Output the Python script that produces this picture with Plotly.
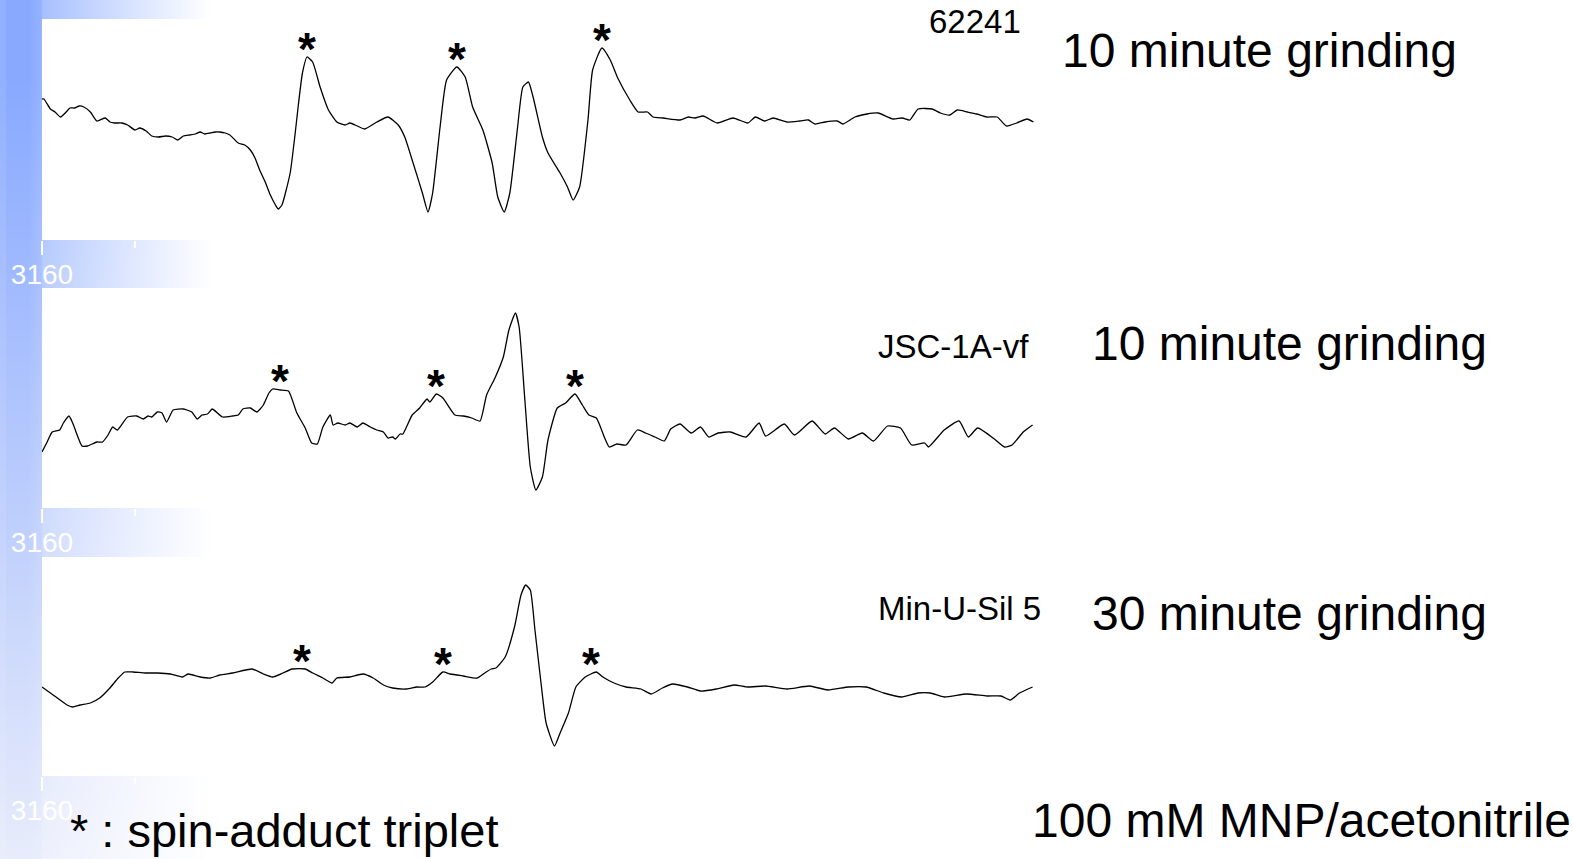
import base64
import struct
import zlib

import plotly.graph_objects as go

# ---------------------------------------------------------------------------
# EPR spectra of ground samples in 100 mM MNP / acetonitrile
# field axis: offset in gauss from the start of the sweep
# ---------------------------------------------------------------------------
sweep_start = 3160.0
sweep_end = 3267.3

samples = ["62241", "JSC-1A-vf", "Min-U-Sil 5"]
grinding = ["10 minute grinding", "10 minute grinding", "30 minute grinding"]

dB_62241 = [0.0, 0.2, 0.9, 1.4, 2.0, 2.6, 3.0, 3.5, 4.0, 4.5,
            5.2, 5.9, 6.8, 7.3, 7.8, 8.6, 9.2, 10.0, 10.5, 11.2,
            11.8, 12.5, 13.3, 14.0, 14.6, 15.2, 15.9, 16.5, 17.0, 17.5,
            18.1, 18.6, 19.1, 19.7, 20.2, 21.1, 21.8, 22.4, 22.9, 23.4,
            24.0, 24.5, 25.1, 25.4, 25.8, 26.2, 26.7, 27.2, 27.5, 28.0,
            28.5, 29.1, 29.9, 30.8, 31.7, 32.6, 33.1, 33.9, 34.7, 36.0,
            37.2, 38.3, 39.0, 39.9, 40.9, 41.5, 42.0, 42.8, 43.5, 44.6,
            45.5, 46.3, 47.4, 48.4, 49.0, 49.7, 50.3, 51.1, 51.7, 52.3,
            52.8, 53.8, 54.4, 55.7, 56.5, 57.1, 57.8, 58.7, 59.2, 60.2,
            61.1, 61.9, 63.2, 64.1, 65.1, 65.7, 66.8, 68.6, 69.5, 70.2,
            71.1, 72.6, 74.3, 75.9, 76.7, 77.7, 78.6, 80.1, 81.5, 82.4,
            83.1, 84.2, 85.5, 86.1, 87.4, 88.7, 89.9, 91.5, 92.5, 93.3,
            94.2, 95.7, 96.6, 97.6, 98.4, 99.5, 100.5, 101.6, 102.7, 103.7,
            104.8, 105.9, 106.6]
sig_62241 = [19, 19, 9, 6, 1, 6, 10, 10, 12, 11,
             6, -3, 0, -4, -5, -5, -7, -12, -10, -13,
             -18, -19, -18, -19, -22, -18, -17, -16, -14, -16,
             -15, -14, -14, -15, -17, -25, -27, -32, -40, -52,
             -64, -76, -87, -91, -87, -74, -54, -17, 8, 45,
             61, 56, 31, 8, -4, -7, -5, -8, -11, -4,
             1, -7, -19, -45, -75, -94, -75, -9, 38, 51,
             41, 11, -12, -45, -79, -94, -75, -12, 31, 36,
             21, -19, -35, -55, -69, -82, -69, -2, 48, 70,
             58, 40, 18, 6, 6, 1, 0, -2, 1, 0,
             2, -5, 0, -5, 1, -3, 0, -4, -3, -2,
             -6, -4, -3, -6, 1, 4, 5, -1, 0, -2,
             9, 9, 5, 3, 8, 6, 4, 1, 1, -8,
             -5, -1, -4]

dB_jsc = [0.0, 0.5, 1.1, 1.9, 2.3, 2.9, 3.3, 4.3, 4.9, 5.9,
          6.5, 7.1, 7.6, 8.1, 9.2, 10.2, 10.9, 11.4, 11.8, 12.4,
          12.9, 13.4, 14.1, 15.2, 16.1, 16.7, 17.2, 17.8, 18.3, 19.4,
          20.5, 21.1, 21.6, 22.4, 23.1, 23.8, 24.4, 24.8, 25.6, 26.5,
          27.4, 28.3, 29.0, 29.6, 30.2, 31.0, 31.3, 31.8, 32.6, 33.1,
          33.9, 34.5, 35.3, 36.0, 36.7, 37.2, 37.7, 38.0, 38.5, 38.8,
          39.8, 40.6, 41.4, 41.7, 42.4, 43.1, 44.4, 45.3, 46.2, 47.1,
          47.8, 48.7, 49.6, 50.2, 50.9, 51.3, 51.9, 52.5, 53.1, 53.8,
          54.4, 55.4, 56.3, 57.3, 58.1, 58.8, 59.6, 60.5, 61.0, 61.8,
          62.8, 64.0, 64.9, 65.9, 66.9, 67.6, 68.6, 69.8, 70.8, 71.7,
          72.7, 74.0, 75.7, 77.1, 77.8, 79.8, 80.9, 82.8, 84.2, 85.2,
          86.7, 88.2, 89.4, 90.9, 92.3, 93.5, 94.9, 95.3, 97.0, 98.6,
          99.6, 100.6, 102.4, 103.5, 104.3, 105.5, 106.5]
sig_jsc = [-22, -13, -2, 0, 7, 14, 7, -16, -16, -12,
           -12, -5, 3, 0, 13, 14, 11, 14, 13, 18,
           17, 8, 20, 21, 18, 11, 15, 16, 21, 13,
           14, 15, 21, 22, 18, 25, 37, 41, 40, 39,
           17, 2, -13, -14, 3, 15, 5, 7, 5, 7,
           3, 7, 3, 0, -2, -8, -7, -9, -4, -4,
           15, 22, 31, 28, 36, 32, 15, 14, 12, 9,
           35, 52, 73, 100, 117, 103, 32, -37, -60, -47,
           -10, 22, 27, 36, 25, 15, 12, -8, -17, -14,
           -15, 0, -3, -7, -11, 1, 6, -3, 3, -7,
           -3, -2, -7, 7, -6, 6, -5, 9, -4, 2,
           -9, -3, -11, 4, 2, -15, -13, -17, 0, 9,
           -7, 2, -9, -17, -15, -2, 5]

dB_minusil = [0.0, 1.2, 2.7, 3.3, 4.1, 5.2, 6.2, 7.3, 8.2, 8.9,
              9.8, 11.1, 12.4, 13.8, 15.1, 15.7, 17.0, 18.1, 19.1, 20.5,
              22.6, 23.8, 24.8, 25.9, 26.9, 28.3, 29.1, 30.2, 31.2, 31.7,
              33.1, 34.5, 35.6, 36.7, 37.7, 39.2, 40.3, 41.2, 42.0, 43.1,
              43.9, 45.3, 46.8, 47.6, 48.3, 48.8, 49.8, 50.8, 51.5, 52.0,
              52.5, 53.0, 53.7, 54.2, 55.1, 55.7, 56.6, 57.4, 58.4, 59.6,
              60.3, 61.5, 62.8, 64.4, 65.5, 66.7, 67.8, 69.4, 70.8, 72.5,
              74.4, 75.9, 77.8, 80.1, 82.5, 84.5, 86.7, 88.6, 90.5, 92.4,
              94.2, 95.5, 97.0, 99.4, 101.6, 103.1, 104.1, 105.1, 106.5]
sig_minusil = [0, -8, -18, -20, -18, -16, -11, -1, 9, 15,
               15, 14, 14, 13, 10, 13, 10, 9, 12, 14,
               18, 13, 10, 14, 18, 18, 14, 9, 4, 9,
               10, 13, 9, 2, -1, -2, 0, 0, 5, 15,
               13, 11, 9, 14, 18, 19, 30, 60, 92, 102,
               97, 57, 0, -36, -59, -46, -26, 0, 10, 15,
               10, 4, 0, -2, -7, -1, 3, 0, -4, -2,
               2, 0, 1, -2, 1, -3, 0, 0, -6, -10,
               -6, -6, -10, -7, -9, -9, -13, -6, 0]

# field offsets of the three MNP spin-adduct lines in each spectrum
triplet_dB = [[28.5, 44.6, 60.2],
              [25.6, 42.4, 57.3],
              [28.0, 43.1, 59.0]]

spectra = [(dB_62241, sig_62241), (dB_jsc, sig_jsc), (dB_minusil, sig_minusil)]

# ---------------------------------------------------------------------------
# page geometry (pixels)
# ---------------------------------------------------------------------------
W, H = 1573, 859
panel_x = (42, 1040)
panel_y = [(19, 240), (288, 508), (557, 776)]      # top, bottom
signal_range = [(-122, 99), (-78, 142), (-89, 130)]
FONT = "Arial, 'Liberation Sans', sans-serif"


def slide_background(w, h):
    """Blue band on the left edge fading to white, as a PNG data URI."""
    raw = bytearray()
    for y in range(h):
        t = min(max((y - 80) / 780.0, 0.0), 1.0)
        base = (136 + 96 * t, 169 + 67 * t, 255 - 4 * t)
        raw.append(0)
        for x in range(w):
            if x < 42:
                if x < 6:
                    f = 0.08
                elif x < 28:
                    f = 0.0
                else:
                    f = (x - 28) / 14.0 * 0.12
            else:
                u = min((x - 42) / 170.0, 1.0)
                f = 0.25 + 0.75 * u ** 0.9
            raw.extend(int(round(c + (255 - c) * f)) for c in base)

    def chunk(tag, data):
        return (struct.pack(">I", len(data)) + tag + data
                + struct.pack(">I", zlib.crc32(tag + data) & 0xFFFFFFFF))

    png = (b"\x89PNG\r\n\x1a\n"
           + chunk(b"IHDR", struct.pack(">IIBBBBB", w, h, 8, 2, 0, 0, 0))
           + chunk(b"IDAT", zlib.compress(bytes(raw), 9))
           + chunk(b"IEND", b""))
    return "data:image/png;base64," + base64.b64encode(png).decode()


fig = go.Figure()
layout = dict(
    width=W, height=H,
    margin=dict(l=0, r=0, t=0, b=0, autoexpand=False),
    paper_bgcolor="white",
    plot_bgcolor="rgba(0,0,0,0)",
    showlegend=False,
    font=dict(family=FONT, color="black"),
)

annotations = []
shapes = []
minor_ticks = [sweep_start + 10 * k for k in range(1, 11)]

for i, (dB, sig) in enumerate(spectra):
    n = "" if i == 0 else str(i + 1)
    xa, ya = "x" + n, "y" + n
    top, bottom = panel_y[i]
    field = [sweep_start + d for d in dB]

    fig.add_trace(go.Scatter(
        x=field, y=sig, xaxis=xa, yaxis=ya, mode="lines",
        line=dict(color="black", width=1.3, shape="spline", smoothing=0.5),
        hoverinfo="skip",
    ))

    layout["xaxis" + n] = dict(
        domain=[panel_x[0] / W, panel_x[1] / W],
        range=[sweep_start, sweep_end],
        anchor=ya, automargin=False,
        showgrid=False, zeroline=False, showline=False,
        ticks="outside", ticklen=14, tickwidth=2, tickcolor="white",
        tickvals=[sweep_start], ticktext=["3160"],
        ticklabelstandoff=-5,
        tickfont=dict(family=FONT, size=28, color="white"),
        minor=dict(ticks="outside", ticklen=7, tickwidth=2,
                   tickcolor="white", tickvals=minor_ticks, showgrid=False),
    )
    layout["yaxis" + n] = dict(
        domain=[1 - bottom / H, 1 - top / H],
        range=list(signal_range[i]),
        anchor=xa, visible=False, automargin=False,
    )

    # white panel behind each spectrum
    shapes.append(dict(type="rect", xref=xa + " domain", yref=ya + " domain",
                       x0=0, x1=1, y0=0, y1=1, layer="below",
                       fillcolor="white", line=dict(width=0)))

    # asterisks over the spin-adduct triplet lines
    for d in triplet_dB[i]:
        near = [s for x, s in zip(dB, sig) if abs(x - d) <= 1.2]
        annotations.append(dict(
            x=sweep_start + d, y=max(near), xref=xa, yref=ya,
            text="*", showarrow=False, yanchor="middle", yshift=8,
            font=dict(family=FONT, size=46, color="black", weight="bold"),
        ))

# sample names and grinding times
sample_label_pos = [(1023, 22), (1031, 346), (1043, 608)]
grind_label_pos = [(1060, 51), (1090, 343), (1090, 613)]
for i in range(3):
    sx, sy = sample_label_pos[i]
    annotations.append(dict(
        x=sx / W, y=1 - sy / H, xref="paper", yref="paper",
        text=samples[i], showarrow=False, xanchor="right", yanchor="middle",
        font=dict(family=FONT, size=33, color="black"),
    ))
    gx, gy = grind_label_pos[i]
    annotations.append(dict(
        x=gx / W, y=1 - gy / H, xref="paper", yref="paper",
        text=grinding[i], showarrow=False, xanchor="left", yanchor="middle",
        font=dict(family=FONT, size=48, color="black"),
    ))

annotations.append(dict(
    x=68 / W, y=1 - 830 / H, xref="paper", yref="paper",
    text="* : spin-adduct triplet", showarrow=False,
    xanchor="left", yanchor="middle",
    font=dict(family=FONT, size=47, color="black"),
))
annotations.append(dict(
    x=1030 / W, y=1 - 820 / H, xref="paper", yref="paper",
    text="100 mM MNP/acetonitrile", showarrow=False,
    xanchor="left", yanchor="middle",
    font=dict(family=FONT, size=48, color="black"),
))

layout["annotations"] = annotations
layout["shapes"] = shapes
layout["images"] = [dict(
    source=slide_background(220, H), xref="paper", yref="paper",
    x=0, y=1, sizex=220 / W, sizey=1, xanchor="left", yanchor="top",
    sizing="stretch", layer="below",
)]

fig.update_layout(**layout)
fig.write_html("out.html")
